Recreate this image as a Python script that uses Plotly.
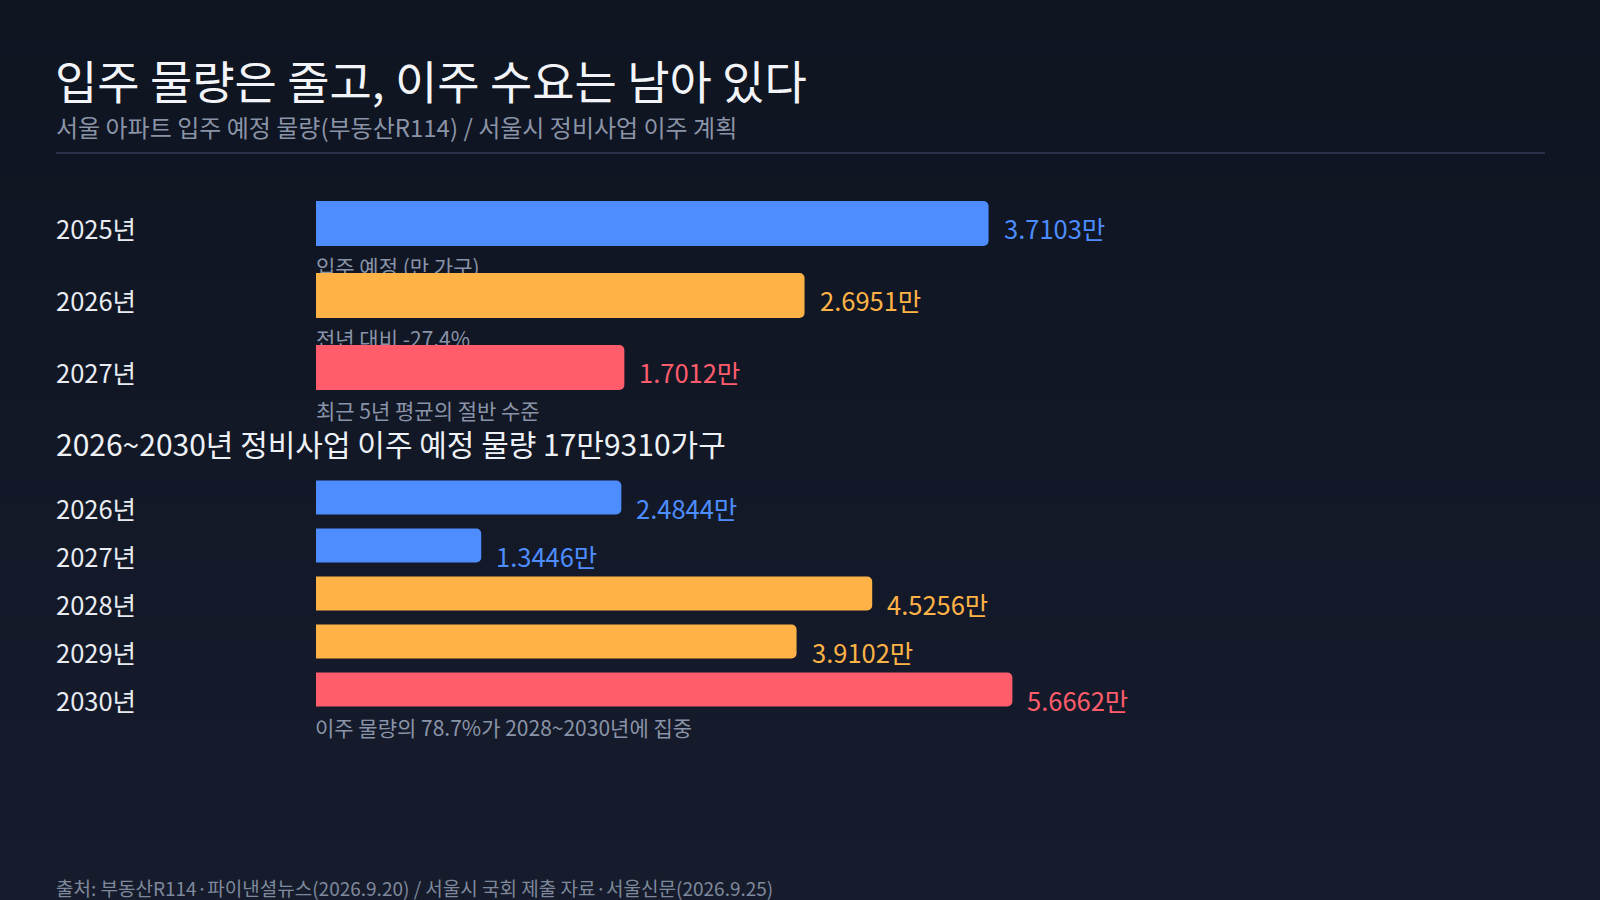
import plotly.graph_objects as go

# ---------- data ----------
supply_years = ["2025년", "2026년", "2027년"]
supply_values = [3.7103, 2.6951, 1.7012]
supply_labels = ["3.7103만", "2.6951만", "1.7012만"]
supply_notes = ["입주 예정 (만 가구)", "전년 대비 -27.4%", "최근 5년 평균의 절반 수준"]

move_years = ["2026년", "2027년", "2028년", "2029년", "2030년"]
move_values = [2.4844, 1.3446, 4.5256, 3.9102, 5.6662]
move_labels = ["2.4844만", "1.3446만", "4.5256만", "3.9102만", "5.6662만"]
move_note = "이주 물량의 78.7%가 2028~2030년에 집중"

TITLE = "입주 물량은 줄고, 이주 수요는 남아 있다"
SUBTITLE = "서울 아파트 입주 예정 물량(부동산R114) / 서울시 정비사업 이주 계획"
SECTION = "2026~2030년 정비사업 이주 예정 물량 17만9310가구"
SOURCE = "출처: 부동산R114·파이낸셜뉴스(2026.9.20) / 서울시 국회 제출 자료·서울신문(2026.9.25)"

# ---------- style ----------
W, H = 1600, 900
FONT = "Noto Sans CJK KR"
BLUE, ORANGE, RED = "#4d8dff", "#ffb347", "#ff5c6c"
supply_colors = [BLUE, ORANGE, RED]
move_colors = [BLUE, BLUE, ORANGE, ORANGE, RED]
NOTE_C = "#8a94a8"
TEXT_C = "#e8ecf2"


def px(x):
    return x / W


def py(y):
    return 1 - y / H


X_DOM = [px(316), px(1545)]
TOP_PITCH = 72  # px per category row in the upper panel

fig = go.Figure()

# notes under the top bars (base subplot, so the next bar covers them)
fig.add_trace(go.Scatter(
    x=[0] * len(supply_notes), y=[i + 0.64 for i in range(len(supply_notes))],
    mode="text", text=supply_notes, textposition="middle right", cliponaxis=False,
    textfont=dict(family=FONT, size=21, color=NOTE_C),
    xaxis="x", yaxis="y", hoverinfo="skip", showlegend=False,
))

fig.add_trace(go.Bar(
    x=supply_values, y=supply_years, orientation="h",
    marker=dict(color=supply_colors, line=dict(width=0), cornerradius=5),
    width=0.625, xaxis="x", yaxis="y3", showlegend=False,
    hovertemplate="%{y}: %{x}만<extra></extra>",
))

fig.add_trace(go.Bar(
    x=move_values, y=move_years, orientation="h",
    marker=dict(color=move_colors, line=dict(width=0), cornerradius=5),
    width=0.71, xaxis="x2", yaxis="y2", showlegend=False,
    hovertemplate="%{y}: %{x}만<extra></extra>",
))

ann = []
for yr, v, lab, c in zip(supply_years, supply_values, supply_labels, supply_colors):
    ann.append(dict(x=px(54), xref="paper", y=yr, yref="y3", text=yr, showarrow=False,
                    xanchor="left", font=dict(family=FONT, size=25.5, color=TEXT_C), yshift=-4))
    ann.append(dict(x=v, xref="x", y=yr, yref="y3", text=lab, showarrow=False,
                    xanchor="left", xshift=13, yshift=-4, font=dict(family=FONT, size=25.5, color=c)))

for yr, v, lab, c in zip(move_years, move_values, move_labels, move_colors):
    ann.append(dict(x=px(54), xref="paper", y=yr, yref="y2", text=yr, showarrow=False,
                    xanchor="left", font=dict(family=FONT, size=25.5, color=TEXT_C), yshift=-10))
    ann.append(dict(x=v, xref="x2", y=yr, yref="y2", text=lab, showarrow=False,
                    xanchor="left", xshift=13, yshift=-10, font=dict(family=FONT, size=25.5, color=c)))

ann.append(dict(x=0, xref="x2", y=move_years[-1], yref="y2", text=move_note, showarrow=False,
                xanchor="left", xshift=-3, yshift=-37, font=dict(family=FONT, size=21, color=NOTE_C)))

ann += [
    dict(x=px(53), y=py(79), xref="paper", yref="paper", text=TITLE, showarrow=False,
         xanchor="left", yanchor="middle", font=dict(family=FONT, size=46, color="#f2f4f8")),
    dict(x=px(54), y=py(127), xref="paper", yref="paper", text=SUBTITLE, showarrow=False,
         xanchor="left", yanchor="middle", font=dict(family=FONT, size=24, color="#8b94a7")),
    dict(x=px(54), y=py(443), xref="paper", yref="paper", text=SECTION, showarrow=False,
         xanchor="left", yanchor="middle", font=dict(family=FONT, size=30, color="#eef1f6")),
    dict(x=px(54), y=py(887), xref="paper", yref="paper", text=SOURCE, showarrow=False,
         xanchor="left", yanchor="middle", font=dict(family=FONT, size=19, color="#7f899c")),
]

# background gradient + header rule
shapes = []
top_c, bot_c = (14, 20, 32), (22, 28, 44)
n = 45
for i in range(n):
    t = i / (n - 1)
    c = tuple(round(a + (b - a) * t) for a, b in zip(top_c, bot_c))
    shapes.append(dict(type="rect", xref="paper", yref="paper", x0=0, x1=1,
                       y0=1 - (i + 1) / n, y1=1 - i / n + 0.001, layer="below",
                       line=dict(width=0), fillcolor="rgb(%d,%d,%d)" % c))
shapes.append(dict(type="line", xref="paper", yref="paper", x0=px(56), x1=px(1545),
                   y0=py(153), y1=py(153), line=dict(color="#283048", width=2)))

hidden = dict(showgrid=False, zeroline=False, showticklabels=False, showline=False, ticks="")

# upper panel: rows at 223.5, 295.5, 367.5 px; range extended by one row so the last note shows
top_range = [3.5, -0.5]
top_dom = [py(187.5 + 4 * TOP_PITCH), py(187.5)]

fig.update_layout(
    width=W, height=H,
    margin=dict(l=0, r=0, t=0, b=0),
    paper_bgcolor="#111726", plot_bgcolor="rgba(0,0,0,0)",
    font=dict(family=FONT, color=TEXT_C),
    xaxis=dict(domain=X_DOM, range=[0, 6.78], anchor="y", fixedrange=True, **hidden),
    yaxis=dict(domain=top_dom, range=top_range, anchor="x", fixedrange=True, **hidden),
    yaxis3=dict(overlaying="y", type="category", categoryorder="array", categoryarray=supply_years,
                range=top_range, anchor="x", fixedrange=True, **hidden),
    xaxis2=dict(domain=X_DOM, range=[0, 10.0], anchor="y2", fixedrange=True, **hidden),
    yaxis2=dict(domain=[py(713.5), py(473.5)], type="category", categoryorder="array",
                categoryarray=move_years, range=[4.5, -0.5], anchor="x2", fixedrange=True, **hidden),
    annotations=ann,
    shapes=shapes,
    bargap=0.3,
)

fig.write_html("out.html", config={"displayModeBar": False},
               post_script="document.body.style.margin='0';document.body.style.background='#111726';")
